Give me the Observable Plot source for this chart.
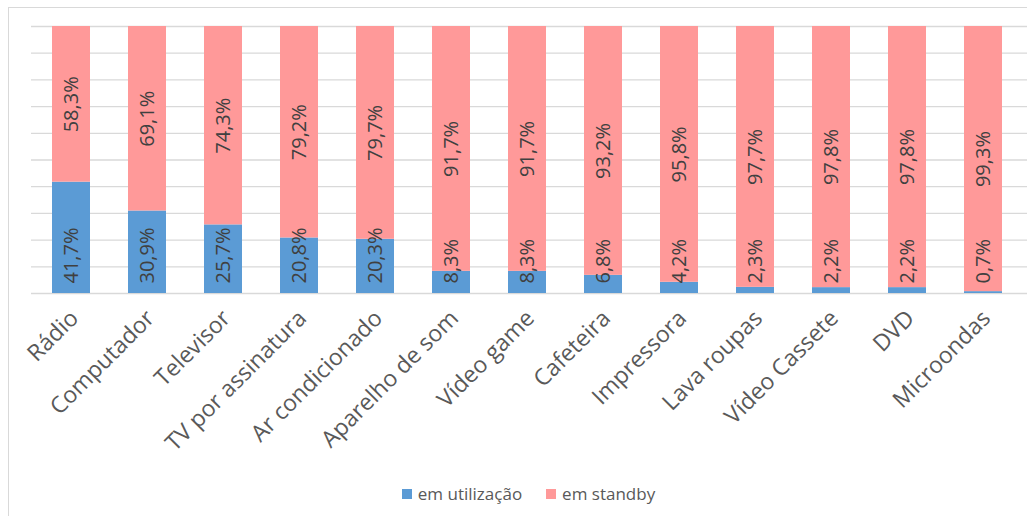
<!DOCTYPE html>
<html>
<head>
<meta charset="utf-8">
<script src="https://cdn.jsdelivr.net/npm/d3@7"></script>
<script src="https://cdn.jsdelivr.net/npm/@observablehq/plot@0.6"></script>
<style>
  html, body { margin: 0; padding: 0; background: #fff; overflow: hidden; }
  body { width: 1027px; height: 516px; position: relative; font-family: "Open Sans", sans-serif; }
  #frame { position: absolute; left: 8px; top: 7px; width: 1100px; height: 600px; border: 1px solid #d9d9d9; box-sizing: border-box; }
  #chart { position: absolute; left: 0; top: 0; }
  #legend { position: absolute; left: 0; top: 482px; width: 1027px; display: flex; justify-content: center; gap: 24px; font-size: 17px; color: #595959; padding-left: 30px; box-sizing: border-box; }
  #legend span { display: inline-flex; align-items: center; }
  #legend i { display: inline-block; width: 10px; height: 10px; margin-right: 6px; }
</style>
</head>
<body>
<div id="frame"></div>
<div id="chart"></div>
<div id="legend"></div>
<script>
// Share of each appliance's time spent in use vs. on standby (%)
const categories = ["Rádio", "Computador", "Televisor", "TV por assinatura", "Ar condicionado", "Aparelho de som", "Vídeo game", "Cafeteira", "Impressora", "Lava roupas", "Vídeo Cassete", "DVD", "Microondas"];
const emUtilizacao = [41.7, 30.9, 25.7, 20.8, 20.3, 8.3, 8.3, 6.8, 4.2, 2.3, 2.2, 2.2, 0.7];
const emStandby = [58.3, 69.1, 74.3, 79.2, 79.7, 91.7, 91.7, 93.2, 95.8, 97.7, 97.8, 97.8, 99.3];
const seriesNames = ["em utilização", "em standby"];
const seriesColors = ["#5b9bd5", "#ff9999"];
const gridTicks = d3.range(0, 101, 10);

const rows = categories.flatMap((c, i) => [
  {cat: c, serie: seriesNames[0], value: emUtilizacao[i], y1: 0, y2: emUtilizacao[i]},
  {cat: c, serie: seriesNames[1], value: emStandby[i], y1: emUtilizacao[i], y2: emUtilizacao[i] + emStandby[i]}
]);
const fmt = v => v.toFixed(1).replace(".", ",") + "%";

const chart = Plot.plot({
  width: 1027,
  height: 478,
  marginLeft: 31,
  marginRight: 0,
  marginTop: 26,
  marginBottom: 185,
  style: {fontFamily: "'Open Sans', sans-serif", background: "transparent"},
  x: {domain: categories, range: [31, 1023], paddingInner: 0.5, paddingOuter: 0.25, label: null},
  y: {domain: [0, 100], axis: null},
  color: {domain: seriesNames, range: seriesColors},
  marks: [
    Plot.ruleY(gridTicks, {stroke: "#d9d9d9", strokeWidth: 1.3}),
    Plot.rectY(rows, {x: "cat", y1: "y1", y2: "y2", fill: "serie"}),
    // standby labels centred in the pink segment
    Plot.text(rows.filter(d => d.serie === seriesNames[1]), {
      x: "cat", y: d => (d.y1 + d.y2) / 2, text: d => fmt(d.value),
      rotate: -90, fontSize: 20, fill: "#404040"
    }),
    // in-use labels sit just above the baseline
    Plot.text(rows.filter(d => d.serie === seriesNames[0]), {
      x: "cat", y: 0, text: d => fmt(d.value),
      rotate: -90, textAnchor: "start", dy: -10, fontSize: 20, fill: "#404040"
    }),
    Plot.axisX({tickRotate: -45, tickSize: 0, tickPadding: 21, dx: 3, fontSize: 23, color: "#595959", label: null})
  ]
});
document.getElementById("chart").appendChild(chart);

const legend = document.getElementById("legend");
seriesNames.forEach((name, i) => {
  const s = document.createElement("span");
  const sw = document.createElement("i");
  sw.style.background = seriesColors[i];
  s.appendChild(sw);
  s.appendChild(document.createTextNode(name));
  legend.appendChild(s);
});
</script>
</body>
</html>
